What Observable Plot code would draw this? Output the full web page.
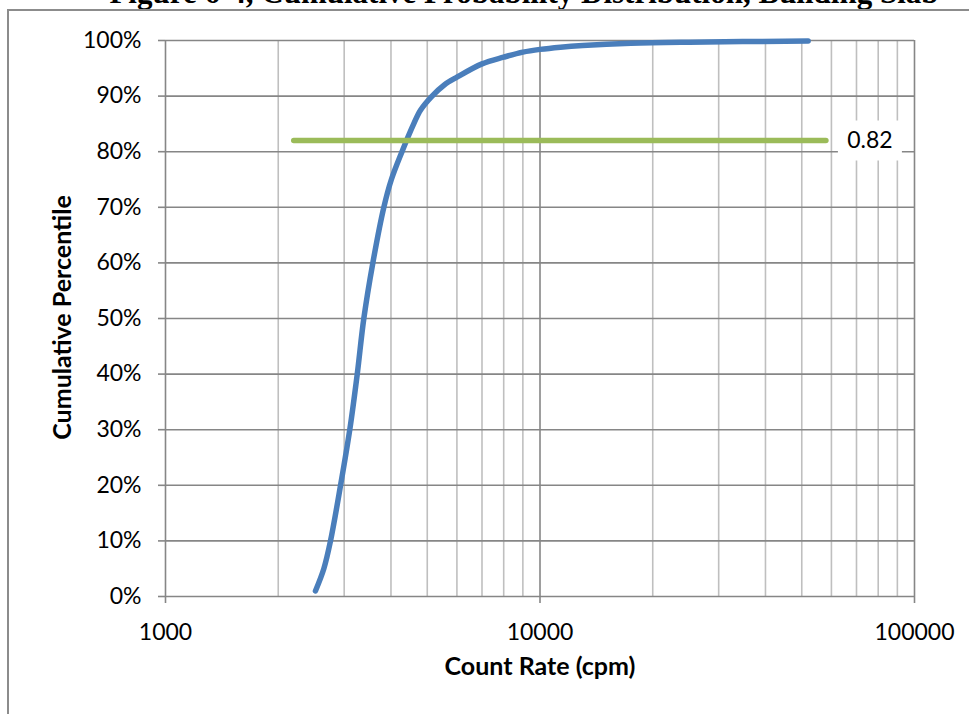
<!DOCTYPE html>
<html>
<head>
<meta charset="utf-8">
<script src="https://cdn.jsdelivr.net/npm/d3@7"></script>
<script src="https://cdn.jsdelivr.net/npm/@observablehq/plot@0.6"></script>
<style>
  html, body { margin: 0; padding: 0; background: #fff; overflow: hidden; }
  #wrap { position: relative; width: 969px; height: 714px; overflow: hidden; }
  #title { position: absolute; left: 0; width: 1048px; top: -23px; text-align: center;
           font-family: "Liberation Serif", "Times New Roman", serif; font-weight: bold; font-size: 31px; line-height: 31px; white-space: nowrap; }
  #frame { position: absolute; left: 7px; top: 9px; width: 1200px; height: 1200px; border: 2px solid #8c8c8c; }
  #chart { position: absolute; left: 0; top: 0; }
</style>
</head>
<body>
<div id="wrap">
  <div id="title">Figure 6-4, Cumulative Probability Distribution, Building Slab</div>
  <div id="frame"></div>
  <div id="chart"></div>
</div>
<script>
// ---- data ----
const counts = [2514, 2647, 2758, 2934, 3105, 3251, 3385, 3578, 3828, 4010, 4280, 4600, 4800, 5150, 5550, 6000, 7000, 8000, 9000, 10000, 11340, 13000, 17500, 25000, 52000];
const percentiles = [0.01, 0.05, 0.10, 0.20, 0.30, 0.40, 0.50, 0.60, 0.70, 0.75, 0.80, 0.85, 0.875, 0.90, 0.92, 0.934, 0.958, 0.970, 0.979, 0.984, 0.988, 0.991, 0.995, 0.997, 0.999];
const refCounts = [2200, 58000];
const refLevel = 0.82;
const refLabel = "0.82";
const yTicks = [0, 0.1, 0.2, 0.3, 0.4, 0.5, 0.6, 0.7, 0.8, 0.9, 1.0];
const xMajor = [1000, 10000, 100000];
const xMinor = [2000, 3000, 4000, 5000, 6000, 7000, 8000, 9000, 20000, 30000, 40000, 50000, 60000, 70000, 80000, 90000];
const xTitle = "Count Rate (cpm)";
const yTitle = "Cumulative Percentile";

const curve = counts.map((c, i) => ({count: c, pct: percentiles[i]}));
const refLine = refCounts.map(c => ({count: c, pct: refLevel}));
const refEnd = [{count: refCounts[1], pct: refLevel, text: refLabel}];

const boxSymbol = {
  draw(ctx) {
    ctx.moveTo(-32, -20); ctx.lineTo(32, -20); ctx.lineTo(32, 20); ctx.lineTo(-32, 20); ctx.closePath();
  }
};

const font = "Lato, 'Open Sans', sans-serif";
const chart = Plot.plot({
  width: 969,
  height: 714,
  marginLeft: 165,
  marginRight: 55,
  marginTop: 40,
  marginBottom: 118,
  style: {fontFamily: font, fontSize: "23px", background: "transparent", color: "#000"},
  x: {type: "log", domain: [1000, 100000]},
  y: {domain: [0, 1]},
  marks: [
    Plot.ruleX(xMinor, {stroke: "#bfbfbf", strokeWidth: 1.6}),
    Plot.ruleX(xMajor, {stroke: "#868686", strokeWidth: 1.6}),
    Plot.ruleY(yTicks, {stroke: "#868686", strokeWidth: 1.6}),
    Plot.axisY({ticks: yTicks, tickFormat: d3.format(".0%"), tickSize: 7, tickPadding: 17, stroke: "#868686", strokeWidth: 1.6, label: null, fontSize: 23}),
    Plot.axisX({ticks: xMajor, tickFormat: d => String(d), tickSize: 7, tickPadding: 20, stroke: "#868686", strokeWidth: 1.6, label: null, fontSize: 23}),
    Plot.line(curve, {x: "count", y: "pct", stroke: "#4a7ebb", strokeWidth: 5.5, curve: "catmull-rom", strokeLinecap: "round", strokeLinejoin: "round"}),
    Plot.line(refLine, {x: "count", y: "pct", stroke: "#9bbb59", strokeWidth: 5.5, strokeLinecap: "round"}),
    Plot.dot(refEnd, {x: "count", y: "pct", symbol: boxSymbol, fill: "white", stroke: null, dx: 44}),
    Plot.text(refEnd, {x: "count", y: "pct", text: "text", dx: 44, fontSize: 23, fill: "#000"}),
    Plot.text([xTitle], {frameAnchor: "bottom", textAnchor: "middle", dy: 78, fontWeight: "bold", fontSize: 25, fill: "#000"}),
    Plot.text([yTitle], {frameAnchor: "left", textAnchor: "middle", dx: -103, dy: -1, rotate: -90, fontWeight: "bold", fontSize: 25, fill: "#000"})
  ]
});
document.getElementById("chart").appendChild(chart);
</script>
</body>
</html>
